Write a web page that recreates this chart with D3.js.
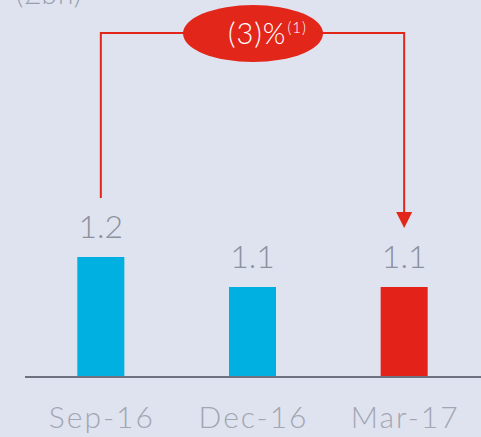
<!DOCTYPE html>
<html>
<head>
<meta charset="utf-8">
<script src="https://cdn.jsdelivr.net/npm/d3@7"></script>
<style>
  html, body { margin: 0; padding: 0; background: #dfe3ef; }
  svg { display: block; font-family: Lato, "Open Sans", sans-serif; }
</style>
</head>
<body>
<div id="chart"></div>
<script>
const categories = ['Sep-16', 'Dec-16', 'Mar-17'];
const values = [1.2, 1.1, 1.1];
const barColors = ['#00b0e1', '#00b0e1', '#e3231a'];
const unitLabel = '(£bn)';
const changeLabel = '(3)%';
const changeNote = '(1)';

const width = 481;
const height = 437;
const red = '#e3261a';

const svg = d3.select('#chart')
  .append('svg')
  .attr('width', width)
  .attr('height', height)
  .style('background-color', '#dfe3ef');

const x = d3.scaleBand()
  .domain(categories)
  .range([25, 480])
  .paddingInner(0.69)
  .paddingOuter(0.345);

// baseline of the bars is not zero in the original
const y = d3.scaleLinear()
  .domain([0.8, 1.2])
  .range([377, 257]);

// unit label, cut off by the top edge as in the original
svg.append('text')
  .attr('x', 16)
  .attr('y', 4)
  .attr('fill', '#9a9fac')
  .style('font-size', '28px')
  .style('font-weight', 300)
  .style('letter-spacing', '1px')
  .text(unitLabel);

svg.selectAll('rect.bar')
  .data(values)
  .enter().append('rect')
  .attr('class', 'bar')
  .attr('x', (d, i) => x(categories[i]))
  .attr('y', d => y(d))
  .attr('width', x.bandwidth())
  .attr('height', d => y.range()[0] - y(d))
  .attr('fill', (d, i) => barColors[i]);

svg.selectAll('text.value')
  .data(values)
  .enter().append('text')
  .attr('class', 'value')
  .attr('x', (d, i) => x(categories[i]) + x.bandwidth() / 2)
  .attr('y', d => y(d) - 19)
  .attr('text-anchor', 'middle')
  .attr('fill', '#8c919e')
  .style('font-size', '32px')
  .style('font-weight', 300)
  .text(d => d.toFixed(1));

const axis = svg.append('g')
  .attr('transform', `translate(0,${y.range()[0]})`)
  .call(d3.axisBottom(x).tickSize(0).tickSizeOuter(0).tickPadding(30));

axis.select('.domain')
  .attr('d', `M25,0H${width}`)
  .attr('stroke', '#6d7280')
  .attr('stroke-width', 2);

axis.selectAll('text')
  .attr('fill', '#a2a6b2')
  .attr('dx', 1)
  .style('font-family', 'Lato, "Open Sans", sans-serif')
  .style('font-size', '30px')
  .style('font-weight', 300)
  .style('letter-spacing', '2px')
  .attr('dy', '0.71em');

// change connector from first to last bar
const xFirst = x(categories[0]) + x.bandwidth() / 2;
const xLast = x(categories[categories.length - 1]) + x.bandwidth() / 2;
const topY = 33;
const cx = 253;

svg.append('path')
  .attr('d', `M${xFirst},198V${topY}H${xLast}V214`)
  .attr('fill', 'none')
  .attr('stroke', red)
  .attr('stroke-width', 2);

svg.append('path')
  .attr('d', `M${xLast - 8},212L${xLast + 8},212L${xLast},228Z`)
  .attr('fill', red);

svg.append('ellipse')
  .attr('cx', cx)
  .attr('cy', 33.5)
  .attr('rx', 70)
  .attr('ry', 28.5)
  .attr('fill', red);

const label = svg.append('text')
  .attr('x', 228)
  .attr('y', 44)
  .attr('fill', '#ffffff')
  .style('font-size', '29px')
  .style('font-weight', 300)
  .style('letter-spacing', '1px');

label.append('tspan').text(changeLabel);
label.append('tspan')
  .attr('dy', -11)
  .attr('dx', 1)
  .style('font-size', '15px')
  .text(changeNote);
</script>
</body>
</html>
